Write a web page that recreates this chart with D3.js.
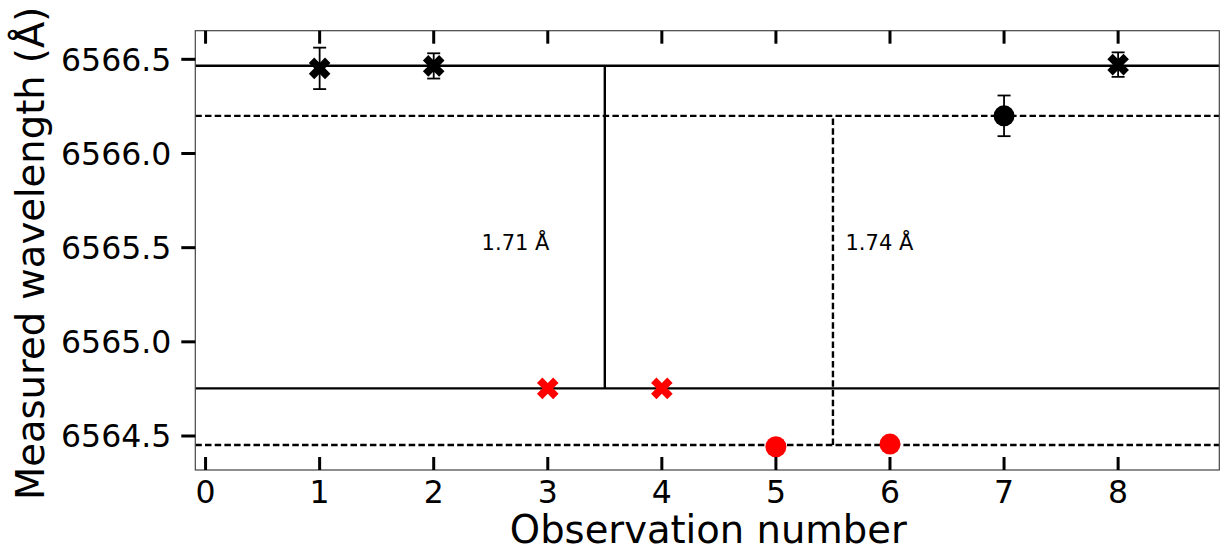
<!DOCTYPE html>
<html><head><meta charset="utf-8">
<script src="https://cdn.jsdelivr.net/npm/d3@7"></script>
<style>body{margin:0;background:#fff}svg{display:block}text{font-family:"DejaVu Sans",sans-serif}</style>
</head><body><svg id="c" width="1222" height="552"></svg>
<script>
// Data
const obs = [1,2,3,4,5,6,7,8];
const wavelength = [6566.452, 6566.465, 6564.753, 6564.753, 6564.443, 6564.457, 6566.200, 6566.472];
const errors = [0.11, 0.067, 0, 0, 0, 0, 0.108, 0.065];
const markers = ["X","X","X","X","o","o","o","X"];
const colors = ["black","black","red","red","red","red","black","black"];
const solidLevels = [6566.466, 6564.753];
const dashedLevels = [6566.200, 6564.452];
const solidSep = {x:3.5, y0:6564.753, y1:6566.466, label:"1.71 Å", lx:2.42, ly:6565.49};
const dashedSep = {x:5.5, y0:6564.452, y1:6566.200, label:"1.74 Å", lx:5.61, ly:6565.49};
const xTicks = [0,1,2,3,4,5,6,7,8];
const yTicks = [6564.5, 6565.0, 6565.5, 6566.0, 6566.5];

const svg = d3.select("#c");
const L = 195.3, T = 30.7, R = 1219.3, B = 470;
const x = d3.scaleLinear().domain([-0.09, 8.887]).range([L, R]);
const y = d3.scaleLinear().domain([6564.3195, 6566.652]).range([B, T]);

const g = svg.append("g");
const LW = 2.4;
solidLevels.forEach(v => g.append("line").attr("x1", L).attr("x2", R).attr("y1", y(v)).attr("y2", y(v))
  .attr("stroke", "black").attr("stroke-width", LW));
dashedLevels.forEach(v => g.append("line").attr("x1", L).attr("x2", R).attr("y1", y(v)).attr("y2", y(v))
  .attr("stroke", "black").attr("stroke-width", LW).attr("stroke-dasharray", "6.5,3.2"));
g.append("line").attr("x1", x(solidSep.x)).attr("x2", x(solidSep.x)).attr("y1", y(solidSep.y0)).attr("y2", y(solidSep.y1))
  .attr("stroke", "black").attr("stroke-width", LW);
g.append("line").attr("x1", x(dashedSep.x)).attr("x2", x(dashedSep.x)).attr("y1", y(dashedSep.y0)).attr("y2", y(dashedSep.y1))
  .attr("stroke", "black").attr("stroke-width", LW).attr("stroke-dasharray", "6.5,3.2");
[solidSep, dashedSep].forEach(s => g.append("text").attr("x", x(s.lx)).attr("y", y(s.ly))
  .attr("font-size", 21).attr("fill", "black").text(s.label));

obs.forEach((o, i) => {
  const e = errors[i];
  if (e <= 0) return;
  const cx = x(o);
  g.append("line").attr("x1", cx).attr("x2", cx).attr("y1", y(wavelength[i]-e)).attr("y2", y(wavelength[i]+e))
    .attr("stroke", colors[i]).attr("stroke-width", 1.8);
  [wavelength[i]-e, wavelength[i]+e].forEach(v => g.append("line").attr("x1", cx-6.5).attr("x2", cx+6.5)
    .attr("y1", y(v)).attr("y2", y(v)).attr("stroke", colors[i]).attr("stroke-width", 1.8));
});
const xPts = [[-1,-2],[0,-1],[1,-2],[2,-1],[1,0],[2,1],[1,2],[0,1],[-1,2],[-2,1],[-1,0],[-2,-1]];
const xPath = "M" + xPts.map(p => [p[0]*5.4, p[1]*5.4].join(",")).join("L") + "Z";
obs.forEach((o, i) => {
  if (markers[i] === "o") {
    g.append("circle").attr("cx", x(o)).attr("cy", y(wavelength[i])).attr("r", 10.5).attr("fill", colors[i]);
  } else {
    g.append("path").attr("d", xPath).attr("transform", `translate(${x(o)},${y(wavelength[i])})`).attr("fill", colors[i]);
  }
});

svg.append("rect").attr("x", L).attr("y", T).attr("width", R-L).attr("height", B-T)
  .attr("fill", "none").attr("stroke", "#444").attr("stroke-width", 1.2);

xTicks.forEach(t => {
  svg.append("line").attr("x1", x(t)).attr("x2", x(t)).attr("y1", B).attr("y2", B-13).attr("stroke", "black").attr("stroke-width", 3);
  svg.append("line").attr("x1", x(t)).attr("x2", x(t)).attr("y1", T).attr("y2", T+13).attr("stroke", "black").attr("stroke-width", 3);
  svg.append("text").attr("x", x(t)).attr("y", B+33).attr("text-anchor", "middle").attr("font-size", 31.5).text(t);
});
yTicks.forEach(t => {
  svg.append("line").attr("x1", L-14).attr("x2", L).attr("y1", y(t)).attr("y2", y(t)).attr("stroke", "black").attr("stroke-width", 3);
  svg.append("text").attr("x", L-24).attr("y", y(t)).attr("dy", "0.36em").attr("text-anchor", "end").attr("font-size", 31.5).text(t.toFixed(1));
});
svg.append("text").attr("x", (L+R)/2 + 1).attr("y", 543).attr("text-anchor", "middle").attr("font-size", 38.5).text("Observation number");
svg.append("text").attr("transform", `translate(44,${(T+B)/2 + 3}) rotate(-90)`).attr("text-anchor", "middle").attr("font-size", 38.5).text("Measured wavelength (Å)");
</script></body></html>
